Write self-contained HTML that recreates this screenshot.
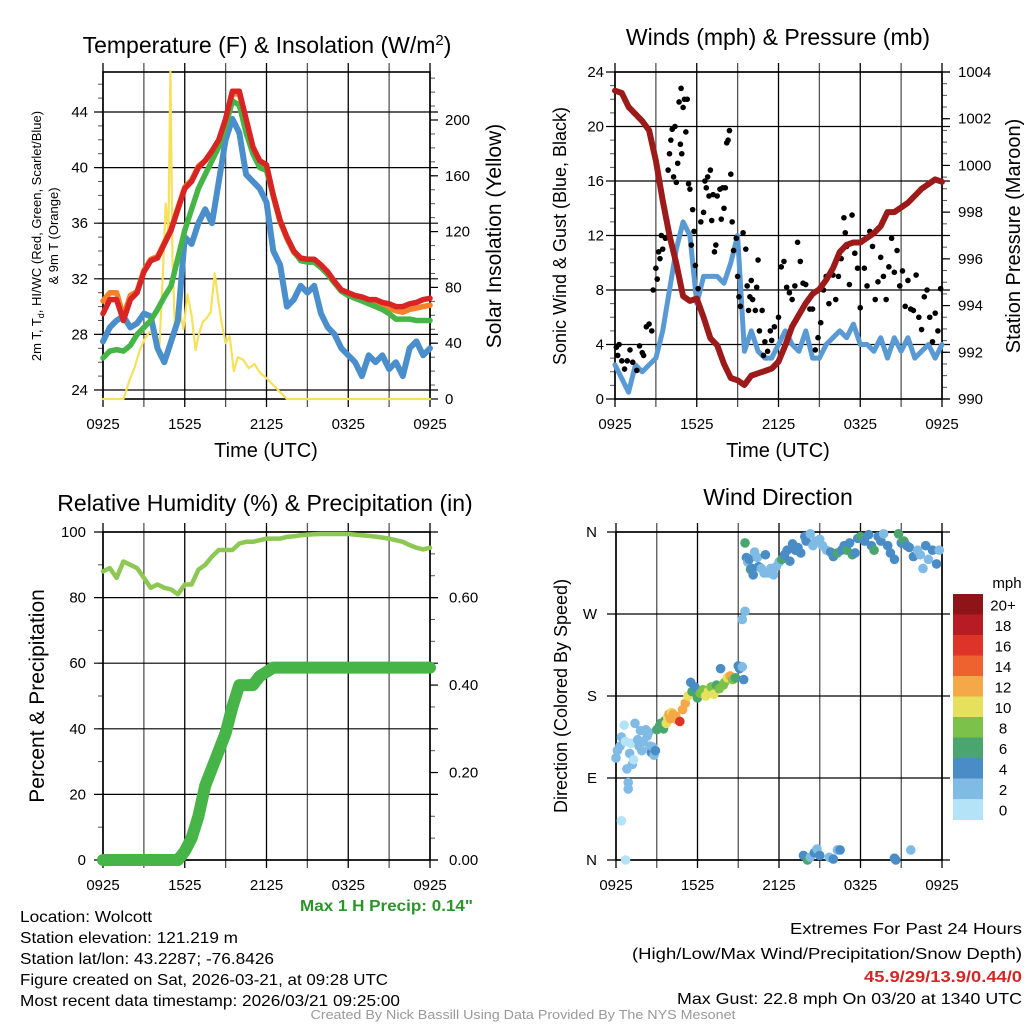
<!DOCTYPE html>
<html><head><meta charset="utf-8"><style>
html,body{margin:0;padding:0;background:#fff}
svg{display:block}
text{font-family:"Liberation Sans",sans-serif;fill:#000}
.n{font-family:"Liberation Sans Narrow","Liberation Sans",sans-serif}
</style></head><body>
<svg id="s" width="1024" height="1024" viewBox="0 0 1024 1024" xmlns="http://www.w3.org/2000/svg">
<g id="g1"></g>
<g id="g2"></g>
<g id="g3"></g>
<g id="g4"></g>
<text x="267" y="53" font-size="23" text-anchor="middle">Temperature (F) &amp; Insolation (W/m<tspan dy="-8" font-size="15">2</tspan><tspan dy="8">)</tspan></text>
<text x="778" y="45" font-size="23" text-anchor="middle">Winds (mph) &amp; Pressure (mb)</text>
<text x="265" y="511" font-size="23" text-anchor="middle">Relative Humidity (%) &amp; Precipitation (in)</text>
<text x="778" y="505" font-size="23" text-anchor="middle">Wind Direction</text>
<text x="266" y="457" font-size="20" text-anchor="middle">Time (UTC)</text>
<text x="778" y="457" font-size="20" text-anchor="middle">Time (UTC)</text>
<text transform="translate(41,236) rotate(-90)" font-size="13" text-anchor="middle">2m T, T<tspan font-size="9" dy="3">d</tspan><tspan dy="-3">, HI/WC (Red, Green, Scarlet/Blue)</tspan></text>
<text transform="translate(58,236) rotate(-90)" font-size="13" text-anchor="middle">&amp; 9m T (Orange)</text>
<text transform="translate(501,236) rotate(-90)" font-size="21" text-anchor="middle">Solar Insolation (Yellow)</text>
<text transform="translate(566,236) rotate(-90)" font-size="18" text-anchor="middle">Sonic Wind &amp; Gust (Blue, Black)</text>
<text transform="translate(1020,236) rotate(-90)" font-size="20" text-anchor="middle">Station Pressure (Maroon)</text>
<text transform="translate(44,696) rotate(-90)" font-size="21" text-anchor="middle">Percent &amp; Precipitation</text>
<text transform="translate(567,696) rotate(-90)" font-size="18" text-anchor="middle">Direction (Colored By Speed)</text>
<text x="1007" y="588" font-size="15" text-anchor="middle">mph</text>
<g class="n" font-size="16">
<text class="n" x="300" y="911" font-weight="bold" style="fill:#2a962a" textLength="173" lengthAdjust="spacingAndGlyphs">Max 1 H Precip: 0.14"</text>
<text class="n" x="20" y="922" textLength="132" lengthAdjust="spacingAndGlyphs">Location: Wolcott</text>
<text class="n" x="20" y="943" textLength="218" lengthAdjust="spacingAndGlyphs">Station elevation: 121.219 m</text>
<text class="n" x="20" y="964" textLength="254" lengthAdjust="spacingAndGlyphs">Station lat/lon: 43.2287; -76.8426</text>
<text class="n" x="20" y="985" textLength="368" lengthAdjust="spacingAndGlyphs">Figure created on Sat, 2026-03-21, at 09:28 UTC</text>
<text class="n" x="20" y="1006" textLength="380" lengthAdjust="spacingAndGlyphs">Most recent data timestamp: 2026/03/21 09:25:00</text>
<text class="n" x="1022" y="934" text-anchor="end" textLength="232" lengthAdjust="spacingAndGlyphs">Extremes For Past 24 Hours</text>
<text class="n" x="1022" y="959" text-anchor="end" textLength="390" lengthAdjust="spacingAndGlyphs">(High/Low/Max Wind/Precipitation/Snow Depth)</text>
<text class="n" x="1022" y="982" text-anchor="end" font-weight="bold" style="fill:#d02828" textLength="158" lengthAdjust="spacingAndGlyphs">45.9/29/13.9/0.44/0</text>
<text class="n" x="1022" y="1004" text-anchor="end" textLength="345" lengthAdjust="spacingAndGlyphs">Max Gust: 22.8 mph On 03/20 at 1340 UTC</text>
<text class="n" x="523" y="1019" font-size="13" text-anchor="middle" style="fill:#999" textLength="425" lengthAdjust="spacingAndGlyphs">Created By Nick Bassill Using Data Provided By The NYS Mesonet</text>
</g>
</svg>
<script>
// ---- data (hours since 0925 UTC) ----
const xTickLabels = ["0925","1525","2125","0325","0925"];
const halfHours = [0,.5,1,1.5,2,2.5,3,3.5,4,4.5,5,5.5,6,6.5,7,7.5,8,8.5,9,9.5,10,10.5,11,11.5,12,12.5,13,13.5,14,14.5,15,15.5,16,16.5,17,17.5,18,18.5,19,19.5,20,20.5,21,21.5,22,22.5,23,23.5,24];
const tempRed = [29.5,30.5,30.5,29,30.5,31,32.5,33.3,33.5,34.5,35.5,37,38.5,39,40,40.5,41.2,42,43.5,45.5,45.5,43.5,41.5,40.5,40.2,38,36.2,35,34,33.5,33.4,33.4,33,32.5,31.8,31.2,31,30.8,30.7,30.5,30.5,30.3,30.2,30,30,30.2,30.3,30.5,30.6];
const tempOrange = [30.4,31,31,29.3,30.8,31.1,32.6,33.4,33.6,34.6,35.6,37.1,38.6,39.1,40.1,40.5,41.2,42,43.4,45.3,45.3,43.4,41.4,40.4,40.1,37.9,36.1,34.9,33.9,33.4,33.3,33.3,32.9,32.4,31.7,31.1,30.9,30.6,30.5,30.3,30.3,30.1,29.9,29.7,29.6,29.8,29.9,30,30.1];
const tempGreen = [26.3,26.8,26.9,26.8,27.2,28,28.5,29,29.8,30.7,31.5,33.5,35.5,37,38.5,39.5,40.5,41.5,43,44.8,44.5,42.5,41,40,39.8,38,36.2,35,34,33.3,33.2,33.2,32.8,32.3,31.7,31.1,30.8,30.6,30.4,30.2,30,29.8,29.5,29.1,29.1,29.1,29,29,29];
const dewBlue = [27.5,28.5,29,29.3,28.5,28.8,29.5,29.3,27,26,27.5,29,35,34.5,36,37,36,39,42,43.5,42.5,39.5,39,38.5,37.5,34,33,30,30.5,31.5,31,31.5,29.5,28.5,28,27,26.5,26,25,26.5,26,26.5,25.5,26,25,27,27.5,26.5,27];
const solarHours = [0,1.5,2,2.3,2.7,3,3.4,3.8,4.1,4.4,4.6,4.8,4.95,5.1,5.3,5.6,5.9,6.2,6.5,6.8,7.0,7.3,7.6,7.9,8.2,8.45,8.7,9.0,9.3,9.6,9.9,10.3,10.7,11.1,11.6,12,12.5,13,13.5,24];
const solarValues = [0,0,15,22,35,42,48,45,30,90,140,120,235,100,45,65,50,75,60,35,45,55,58,62,90,72,55,40,45,20,30,28,22,25,18,15,10,5,0,0];
const pressure = [1003.2,1003.1,1002.5,1002.2,1001.9,1001.5,1000.2,998.5,997,995.8,994.4,994.2,994.3,993.5,992.6,992.3,991.5,990.9,990.8,990.6,991,991.1,991.2,991.3,991.6,992.3,993.1,993.6,994.1,994.5,994.7,995.1,995.6,996.3,996.6,996.7,996.7,996.9,997.1,997.4,998,998,998.2,998.4,998.7,999,999.2,999.4,999.3];
const windSpeed = [2.5,1.5,0.5,2.5,2,2.5,3,5,8,11,13,12,7,9,9,9,8.5,10,12,3.5,5,3.5,3,3,4,5,4,3.5,5,3,3,4,4.5,5,4.5,5.5,4,4,3.5,4.5,3,4.5,3.5,4.5,3,3.5,4,3,4];
const gustHours = [0.1,0.2,0.3,0.5,0.7,0.9,1.1,1.3,1.6,1.8,2.0,2.1,2.3,2.5,2.7,2.8,3.0,3.1,3.2,3.3,3.4,3.5,3.7,3.9,4.0,4.1,4.2,4.3,4.4,4.5,4.6,4.7,4.8,4.85,4.9,5.0,5.1,5.2,5.3,5.4,5.5,5.6,5.7,5.8,5.9,6.1,6.3,6.5,6.6,6.7,6.8,6.9,7.0,7.1,7.2,7.3,7.4,7.5,7.7,7.8,7.9,8.0,8.1,8.2,8.3,8.4,8.5,8.6,8.7,8.9,9.0,9.1,9.2,9.4,9.6,9.7,9.8,9.9,10.0,10.1,10.3,10.4,10.5,10.6,10.8,10.9,11.0,11.2,11.4,11.5,11.7,12.0,12.2,12.4,12.6,12.8,13.0,13.2,13.4,13.6,13.8,14.0,14.3,14.5,14.7,14.9,15.1,15.3,15.5,15.7,16.0,16.2,16.4,16.6,16.8,16.9,17.0,17.2,17.4,17.6,17.8,18.0,18.3,18.5,18.7,18.9,19.1,19.3,19.5,19.7,19.9,20.1,20.3,20.5,20.7,20.9,21.1,21.3,21.5,21.7,21.9,22.1,22.3,22.5,22.7,22.9,23.1,23.3,23.5,23.7,23.9];
const gustValues = [3.8,3.2,4,2.8,2.2,2.8,3.6,2.7,2.1,3.9,3.4,3.2,5.3,5.5,5,8,9.6,8.8,10.8,10.3,12,11,11.8,16.8,18,19,19.8,16.3,20,15.9,17.3,21.8,18.7,22.8,18,21.4,22,19.6,22,15.8,15.4,11.3,13.9,12.3,9.8,8.1,13,13.7,16,15.5,16.3,14.9,16.8,13.1,15,10.8,11.3,14.9,15.4,13.2,15.5,14,15.5,18.8,19,19.7,16.5,13,10.9,11.8,9,7.5,6.8,12.2,11,8.3,6.5,7.5,8.7,7.3,6.5,8.2,10.2,5,6.5,3.2,4.2,3.5,5,4.3,5.3,6,9.7,10.1,8.2,7.8,7.3,8.3,11.5,10.1,8.5,8.4,6.6,6.6,3.6,4.5,5.6,8,9,7,9.1,7.3,9,10.3,13.3,12.2,11.2,8.4,13.5,10.7,9.6,6.7,9.6,8.3,12.3,11.2,7.3,8.6,10.4,9,7.3,9.7,11.8,9.3,10.9,8.3,9.4,6.8,8.7,6.6,6.5,9.1,6,5.1,7.5,8,6,4.2,6.3,5,8.1];
const humidity = [88,89,86,91,90,89,86,83,84,83,82.5,81,84,84,88.5,90,92.5,94.5,94.5,94.5,96.5,97,97,97.5,98,98,98,98.5,98.7,99,99.2,99.3,99.4,99.4,99.4,99.4,99.4,99.2,99,98.8,98.6,98.3,98,97.5,97,96,95.2,94.7,95.2];
const precip = [0,0,0,0,0,0,0,0,0,0,0,0,0.02,0.05,0.1,0.17,0.21,0.25,0.29,0.35,0.4,0.4,0.4,0.42,0.43,0.44,0.44,0.44,0.44,0.44,0.44,0.44,0.44,0.44,0.44,0.44,0.44,0.44,0.44,0.44,0.44,0.44,0.44,0.44,0.44,0.44,0.44,0.44,0.44];
const dirHours = [0.0,0.1,0.3,0.4,0.6,0.7,0.8,0.9,0.9,0.4,0.7,1.0,1.1,1.2,1.3,1.4,1.6,1.7,1.8,1.9,2.0,2.2,2.3,2.4,2.5,2.6,2.7,2.8,2.9,3.0,3.2,3.3,3.5,3.6,3.7,3.8,3.9,4.0,4.1,4.2,4.4,4.5,4.7,4.9,5.1,5.3,5.5,5.6,5.8,6.0,6.2,6.4,6.6,6.8,7.0,7.2,7.4,7.6,7.7,7.9,8.0,8.2,8.4,8.6,8.8,9.0,9.1,9.3,9.4,9.3,9.5,9.5,9.6,9.7,9.8,9.9,10.0,10.1,10.2,10.4,10.5,10.7,10.9,11.0,11.2,11.4,11.6,11.8,12.0,12.2,12.4,12.6,12.8,13.0,13.2,13.4,13.6,13.9,14.0,14.3,14.5,14.7,15.0,15.2,15.5,15.8,16.0,16.3,16.6,16.8,17.0,17.2,17.4,17.6,17.8,18.0,18.3,18.6,18.8,19.0,19.3,19.5,19.7,20.0,20.2,20.5,20.8,21.0,21.2,21.4,21.6,21.9,22.2,22.4,22.6,22.8,23.0,23.3,23.6,23.8,13.8,14.1,14.3,14.6,14.8,15.0,15.7,16.0,16.3,16.5,20.5,20.6,21.7];
const dirDegrees = [112,120,125,135,148,130,100,85,78,43,0,117,128,105,110,150,132,125,142,120,130,143,136,140,125,118,124,115,120,143,147,150,144,153,150,157,160,155,162,160,158,154,152,165,172,180,195,185,190,178,183,187,180,185,190,182,192,188,210,192,195,200,202,198,200,213,210,212,198,264,273,348,332,327,330,319,320,313,338,332,322,320,315,335,315,320,313,322,327,330,335,340,328,347,340,343,337,355,350,358,345,350,352,345,340,338,333,337,340,345,340,348,335,337,353,355,350,357,345,340,355,350,358,345,337,330,358,348,350,345,343,333,340,335,320,345,330,340,325,340,5,0,3,8,12,5,3,1,11,11,2,0,11];
const dirSpeeds = [3,3,2,3,1,1,3,2,2,1,1,2,1,2,1,3,2,2,2,2,2,2,2,2,2,4,3,3,4,6,6,6,6,7,10,10,12,12,11,12,13,12,16,12,13,10,4,6,4,6,8,8,10,10,8,10,6,8,4,8,8,10,12,8,6,4,4,3,4,2,2,6,4,3,4,6,4,4,2,2,4,2,2,4,2,2,2,2,2,6,4,4,4,4,4,4,4,4,4,2,2,2,2,2,2,4,4,6,4,4,6,4,6,4,4,6,4,4,4,6,4,4,2,4,4,4,6,4,6,4,4,4,2,2,2,4,2,4,4,2,4,6,2,4,2,4,2,4,2,4,4,4,2];
const colorLabels = ["20+","18","16","14","12","10","8","6","4","2","0"];
const colorFills = ["#8e1418","#b71c24","#dd3328","#ee6230","#f5a848","#e6e05c","#7cc14a","#4aa56e","#4a8cc6","#7fbbe4","#b4e2f7"];

const NS="http://www.w3.org/2000/svg";
function mk(parent,tag,attrs){const e=document.createElementNS(NS,tag);for(const k in attrs)e.setAttribute(k,attrs[k]);parent.appendChild(e);return e;}
function lin(d0,d1,r0,r1){return v=>r0+(v-d0)/(d1-d0)*(r1-r0);}
function pathD(xs,ys,fx,fy){return xs.map((t,i)=>(i?"L":"M")+fx(t).toFixed(1)+","+fy(ys[i]).toFixed(1)).join("");}

function minorTicks(g,x0,x1,fy,lo,hi,step){
  for(let v=lo;v<=hi+1e-9;v+=step){
    const l=mk(g,"line",{x1:x0,x2:x1,y1:fy(v),y2:fy(v),stroke:"#555","stroke-width":1});
    
    
  }
}
function frame(g,L,R,T,B,yTicks,fy,yLabels,ryTicks,fyr,ryLabels,lx,rx){
  const fx=lin(0,24,L,R);
  for(let h=0;h<=24;h+=3){
    const v=mk(g,"line",{x1:fx(h),x2:fx(h),y1:T-9,y2:B+8,stroke:(h%6==0)?"#000":"#555","stroke-width":1.3});
    
    
  }
  yTicks.forEach((v,i)=>{
    const l=mk(g,"line",{x1:L-9,x2:R+8,y1:fy(v),y2:fy(v),stroke:"#000","stroke-width":1.2});
    
    
    const t=mk(g,"text",{x:lx,y:fy(v)+5,"font-size":15,"text-anchor":"end"});t.textContent=yLabels[i];
    
    
  });
  if(ryTicks) ryTicks.forEach((v,i)=>{
    const l=mk(g,"line",{x1:R,x2:R+8,y1:fyr(v),y2:fyr(v),stroke:"#000","stroke-width":1.2});
    
    
    const t=mk(g,"text",{x:rx,y:fyr(v)+5,"font-size":15});t.textContent=ryLabels[i];
    
    
  });
  const r=mk(g,"rect",{x:L,y:T,width:R-L,height:B-T,fill:"none",stroke:"#000","stroke-width":1.6});
  
  
  xTickLabels.forEach((s,i)=>{
    const t=mk(g,"text",{x:fx(i*6),y:B+30,"font-size":15,"text-anchor":"middle"});t.textContent=s;
    
    
  });
  return fx;
}
function series(g,xs,ys,fx,fy,col,w,name){
  const p=mk(g,"path",{d:pathD(xs,ys,fx,fy),fill:"none",stroke:col,"stroke-width":w,"stroke-linejoin":"round","stroke-linecap":"round"});
  
  
}

// Panel 1
(function(){
  const g=document.getElementById("g1");
  const L=103,R=430,T=72,B=399;
  const fy=lin(24,44,390,112), fyr=lin(0,200,399,120);
  minorTicks(g,L-5,L,fy,24,46,1);
  minorTicks(g,R,R+5,fyr,0,230,10);
  const fx=frame(g,L,R,T,B,[24,28,32,36,40,44],fy,["24","28","32","36","40","44"],[0,40,80,120,160,200],fyr,["0","40","80","120","160","200"],88,445);
  series(g,solarHours,solarValues,fx,fyr,"#f7e05a",2.2,"solar-line");
  series(g,halfHours,dewBlue,fx,fy,"#4a8fcb",6,"dewpoint-line");
  series(g,halfHours,tempOrange,fx,fy,"#f5822a",5.5,"temp-9m-line");
  series(g,halfHours,tempGreen,fx,fy,"#46b446",5.5,"heat-index-line");
  series(g,halfHours,tempRed,fx,fy,"#d92424",5.5,"temp-2m-line");
})();
// Panel 2
(function(){
  const g=document.getElementById("g2");
  const L=615,R=942,T=72,B=399;
  const fy=lin(0,24,399,72), fyr=lin(990,1004,399,72);
  minorTicks(g,L-5,L,fy,0,24,1);
  minorTicks(g,R,R+5,fyr,990,1004,0.5);
  const fx=frame(g,L,R,T,B,[0,4,8,12,16,20,24],fy,["0","4","8","12","16","20","24"],[990,992,994,996,998,1000,1002,1004],fyr,["990","992","994","996","998","1000","1002","1004"],604,958);
  series(g,halfHours,windSpeed,fx,fy,"#5a9ad4",5,"sonic-wind-line");
  gustHours.forEach((t,i)=>{
    const c=mk(g,"circle",{cx:fx(t),cy:fy(gustValues[i]),r:2.8,fill:"#000"});
    
    
  });
  series(g,halfHours,pressure,fx,fyr,"#9c1a1a",6,"pressure-line");
})();
// Panel 3
(function(){
  const g=document.getElementById("g3");
  const L=103,R=430,T=532,B=860;
  const fy=lin(0,100,860,532), fyr=lin(0,0.75,860,532);
  minorTicks(g,L-5,L,fy,0,100,10);
  minorTicks(g,R,R+5,fyr,0,0.75,0.05);
  const fx=frame(g,L,R,T,B,[0,20,40,60,80,100],fy,["0","20","40","60","80","100"],[0,0.2,0.4,0.6],fyr,["0.00","0.20","0.40","0.60"],86,449);
  series(g,halfHours,humidity,fx,fy,"#8dc853",4.5,"humidity-line");
  series(g,halfHours,precip,fx,fyr,"#46b446",12,"precip-line");
})();
// Panel 4
(function(){
  const g=document.getElementById("g4");
  const L=616,R=942,T=532,B=860;
  const fy=lin(0,360,860,532);
  const fx=frame(g,L,R,T,B,[0,90,180,270,360],fy,["N","E","S","W","N"],null,null,null,597,0);
  dirHours.forEach((t,i)=>{
    const k=Math.min(10,Math.floor(dirSpeeds[i]/2));
    const c=mk(g,"circle",{cx:fx(t),cy:fy(dirDegrees[i]),r:4.8,fill:colorFills[10-k]});
    
    
  });
  const y0=594,h=20.5;
  colorLabels.forEach((s,i)=>{
    const r=mk(g,"rect",{x:953,y:y0+i*h,width:30,height:h+0.5,fill:colorFills[i]});
    
    
    const t=mk(g,"text",{x:1003,y:y0+i*h+h/2+6,"font-size":15,"text-anchor":"middle"});t.textContent=s;
    
    
  });
})();
</script>
</body></html>
